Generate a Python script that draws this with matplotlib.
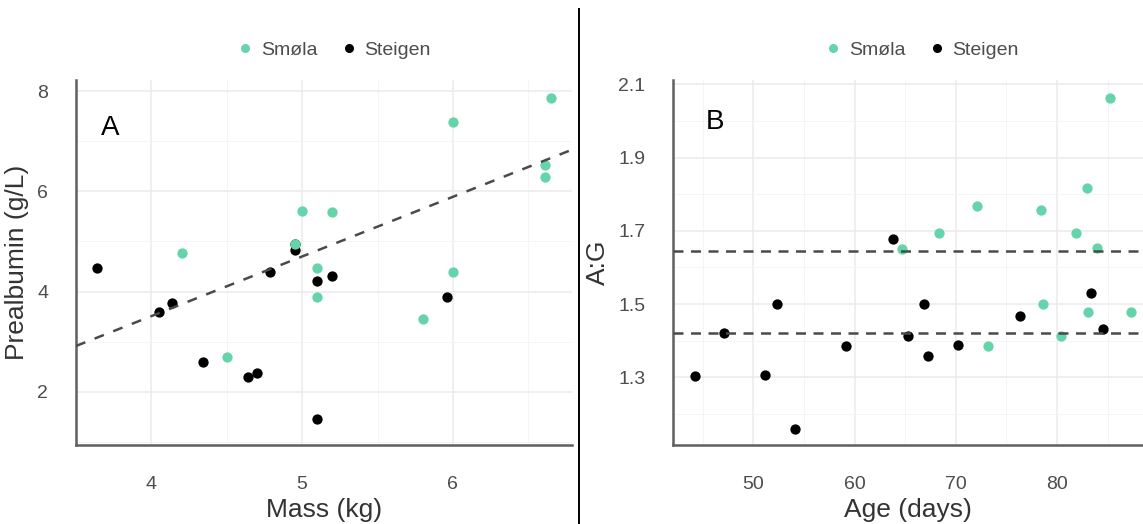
import matplotlib
matplotlib.use("Agg")
import matplotlib.pyplot as plt
from matplotlib.lines import Line2D
from matplotlib.ticker import MultipleLocator

plt.rcParams['font.family'] = ['Liberation Sans', 'DejaVu Sans']

# Panel A: prealbumin vs body mass
mass_smola = [4.20, 4.50, 4.95, 5.00, 5.20, 5.10, 5.10, 5.80, 6.00, 6.00, 6.61, 6.61, 6.65]
prealb_smola = [4.77, 2.69, 4.94, 5.61, 5.58, 4.47, 3.90, 3.45, 7.39, 4.40, 6.52, 6.29, 7.87]
mass_steigen = [3.64, 4.05, 4.14, 4.34, 4.64, 4.70, 4.79, 4.95, 4.95, 5.10, 5.20, 5.10, 5.96]
prealb_steigen = [4.47, 3.59, 3.77, 2.59, 2.30, 2.37, 4.40, 4.82, 4.95, 4.22, 4.32, 1.45, 3.90]
fit_intercept = -1.25
fit_slope = 1.19

# Panel B: albumin:globulin ratio vs age
age_smola = [64.65, 68.3, 72.06, 73.23, 78.44, 78.58, 80.35, 81.91, 82.94, 83.09, 83.97, 85.28, 87.27]
ag_smola = [1.650, 1.694, 1.769, 1.385, 1.758, 1.500, 1.413, 1.694, 1.816, 1.479, 1.654, 2.064, 1.479]
age_steigen = [44.26, 47.13, 51.13, 52.3, 54.1, 59.18, 63.76, 65.28, 66.84, 67.23, 70.25, 76.35, 83.37, 84.57]
ag_steigen = [1.303, 1.421, 1.307, 1.500, 1.159, 1.385, 1.679, 1.413, 1.500, 1.357, 1.389, 1.468, 1.529, 1.432]
ref_lines = [1.645, 1.42]

series_names = ["Smøla", "Steigen"]
col_smola = "#66D4AA"
col_steigen = "#000000"
grid_major = "#EBEBEB"
grid_minor = "#F4F4F4"
tick_col = "#4D4D4D"
spine_col = "#5F5F5F"

W, H = 1143, 524
fig = plt.figure(figsize=(W / 100, H / 100), dpi=100)

axA = fig.add_axes([76 / W, 1 - 445 / H, (572 - 76) / W, (445 - 80) / H])
axB = fig.add_axes([673 / W, 1 - 445 / H, (W - 673) / W, (445 - 80) / H])


def style(ax):
    ax.set_facecolor("white")
    for s in ("top", "right"):
        ax.spines[s].set_visible(False)
    for s in ("left", "bottom"):
        ax.spines[s].set_color(spine_col)
        ax.spines[s].set_linewidth(1.8)
    ax.grid(True, which="major", color=grid_major, linewidth=1.1, zorder=0)
    ax.grid(True, which="minor", color=grid_minor, linewidth=0.6, zorder=0)
    ax.set_axisbelow(True)
    ax.tick_params(which="both", length=0, labelsize=14, labelcolor=tick_col)
    ax.tick_params(axis="y", pad=20)
    ax.tick_params(axis="x", pad=22)


ms = 55
# Panel A
axA.scatter(mass_steigen, prealb_steigen, s=ms, color=col_steigen, zorder=3, linewidths=0)
axA.scatter(mass_smola, prealb_smola, s=ms, color=col_smola, zorder=4, linewidths=0)
xa0, xa1 = 3.5, 6.79
axA.plot([xa0, xa1], [fit_intercept + fit_slope * xa0, fit_intercept + fit_slope * xa1],
         color="#4A4A4A", lw=1.8, ls=(0, (4, 4)), zorder=5)
axA.set_xlim(xa0, xa1)
axA.set_ylim(0.94, 8.22)
axA.xaxis.set_major_locator(MultipleLocator(1))
axA.xaxis.set_minor_locator(MultipleLocator(0.5))
axA.yaxis.set_major_locator(MultipleLocator(2))
axA.yaxis.set_minor_locator(MultipleLocator(1))
style(axA)
axA.set_xlabel("Mass (kg)", fontsize=19, color="#333333", labelpad=4)
axA.set_ylabel("Prealbumin (g/L)", fontsize=19, color="#333333", labelpad=6)
axA.text(0.05, 0.868, "A", transform=axA.transAxes, fontsize=20, color="black",
         ha="left", va="center")

# Panel B
axB.scatter(age_steigen, ag_steigen, s=ms, color=col_steigen, zorder=3, linewidths=0)
axB.scatter(age_smola, ag_smola, s=ms, color=col_smola, zorder=4, linewidths=0)
for yv in ref_lines:
    axB.axhline(yv, color="#4A4A4A", lw=1.8, ls=(0, (4, 3)), zorder=5)
axB.set_xlim(42.06, 88.5)
axB.set_ylim(1.115, 2.112)
axB.xaxis.set_major_locator(MultipleLocator(10))
axB.xaxis.set_minor_locator(MultipleLocator(5))
axB.set_yticks([1.3, 1.5, 1.7, 1.9, 2.1])
axB.yaxis.set_minor_locator(MultipleLocator(0.1))
style(axB)
axB.set_xlabel("Age (days)", fontsize=19, color="#333333", labelpad=4)
axB.set_ylabel("A:G", fontsize=19, color="#333333", labelpad=6)
axB.text(0.07, 0.885, "B", transform=axB.transAxes, fontsize=20, color="black",
         ha="left", va="center")

# Legends above each panel
handles = [Line2D([], [], marker="o", ls="", color=col_smola, markersize=5.5),
           Line2D([], [], marker="o", ls="", color=col_steigen, markersize=5.5)]
for cx in (334 / W, 922 / W):
    leg = fig.legend(handles, series_names, loc="center", bbox_to_anchor=(cx, 1 - 50 / H),
                     ncol=2, frameon=False, fontsize=14, handlelength=0.8,
                     handletextpad=0.4, columnspacing=1.2)
    for t in leg.get_texts():
        t.set_color(tick_col)

# Divider between the panels
fig.add_artist(Line2D([579 / W, 579 / W], [0, 1 - 9 / H], color="black", lw=1.4))

fig.savefig("out.png", dpi=100, facecolor="white")
